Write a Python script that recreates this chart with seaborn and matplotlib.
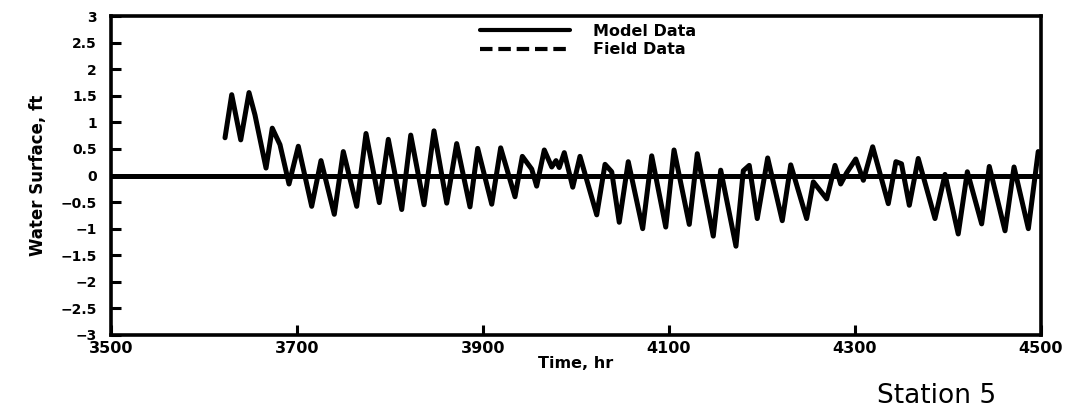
import matplotlib
matplotlib.use("Agg")
import matplotlib.pyplot as plt
import seaborn as sns
import pandas as pd
from matplotlib.lines import Line2D

# ---- data ----
time_hr = [3622.6, 3629.8, 3639.5, 3648.4, 3654.8, 3666.7, 3673.4, 3681.7, 3691.4, 3701.4,
           3715.8, 3725.8, 3740.1, 3749.8, 3764.2, 3774.2, 3788.5, 3798.2, 3812.6, 3822.3,
           3836.6, 3847.3, 3861.0, 3871.7, 3886.0, 3894.3, 3909.4, 3919.0, 3934.4, 3942.3,
           3952.4, 3957.7, 3965.9, 3973.9, 3978.5, 3982.0, 3987.4, 3996.5, 4004.3, 4022.3,
           4031.2, 4038.4, 4046.5, 4056.2, 4071.7, 4081.4, 4096.5, 4105.4, 4121.8, 4130.4,
           4147.6, 4155.6, 4172.0, 4179.9, 4186.3, 4194.9, 4206.1, 4221.8, 4230.9, 4248.0,
           4255.2, 4269.6, 4278.5, 4284.6, 4291.0, 4300.8, 4309.0, 4319.0, 4335.8, 4344.0,
           4350.0, 4358.4, 4368.0, 4386.0, 4396.8, 4411.0, 4420.8, 4436.2, 4444.4, 4461.3,
           4471.0, 4486.4, 4497.0]
model_ft = [0.71, 1.52, 0.67, 1.56, 1.14, 0.14, 0.89, 0.58, -0.16, 0.55,
            -0.58, 0.28, -0.73, 0.45, -0.58, 0.79, -0.51, 0.68, -0.64, 0.76,
            -0.55, 0.84, -0.52, 0.60, -0.59, 0.51, -0.54, 0.52, -0.40, 0.36,
            0.12, -0.20, 0.48, 0.16, 0.28, 0.15, 0.43, -0.22, 0.36, -0.74,
            0.21, 0.07, -0.88, 0.26, -1.00, 0.37, -0.97, 0.48, -0.92, 0.41,
            -1.14, 0.10, -1.33, 0.09, 0.19, -0.81, 0.33, -0.85, 0.20, -0.81,
            -0.12, -0.44, 0.19, -0.16, 0.05, 0.31, -0.09, 0.54, -0.53, 0.26,
            0.22, -0.56, 0.32, -0.81, 0.02, -1.10, 0.07, -0.91, 0.17, -1.04,
            0.16, -1.00, 0.45]
zero_level = 0.0
x_ticks = [3500, 3700, 3900, 4100, 4300, 4500]
x_tick_labels = ["3500", "3700", "3900", "4100", "4300", "4500"]
y_ticks = [-3, -2.5, -2, -1.5, -1, -0.5, 0, 0.5, 1, 1.5, 2, 2.5, 3]
y_tick_labels = ["\u22123", "\u22122.5", "\u22122", "\u22121.5", "\u22121", "\u22120.5",
                 "0", "0.5", "1", "1.5", "2", "2.5", "3"]
legend_labels = ["Model Data", "Field Data"]

df = pd.DataFrame({"Time, hr": time_hr, "Water Surface, ft": model_ft})

sns.set_style("ticks")
plt.rcParams["font.family"] = ["DejaVu Sans"]
plt.rcParams["text.color"] = "black"
plt.rcParams["axes.labelcolor"] = "black"
plt.rcParams["xtick.color"] = "black"
plt.rcParams["ytick.color"] = "black"

fig = plt.figure(figsize=(10.72, 4.17), dpi=100)
ax = fig.add_axes([111 / 1072, 1 - 335 / 417, 930 / 1072, 319 / 417])

ax.axhline(zero_level, color="black", lw=3.6, zorder=2)
sns.lineplot(data=df, x="Time, hr", y="Water Surface, ft", color="black", lw=3.6,
             ax=ax, legend=False, zorder=3)
for ln in ax.get_lines():
    ln.set_solid_joinstyle("round")
    ln.set_solid_capstyle("round")

ax.set_xlim(3500, 4500)
ax.set_ylim(-3, 3)
ax.set_xticks(x_ticks)
ax.set_xticklabels(x_tick_labels, fontsize=11.5, fontweight="heavy", color="black")
ax.set_yticks(y_ticks)
ax.set_yticklabels(y_tick_labels, fontsize=10, fontweight="heavy", color="black")
ax.tick_params(axis="both", direction="in", length=7, width=2.2, color="black",
               labelcolor="black")
ax.tick_params(axis="x", pad=4)
ax.tick_params(axis="y", pad=10)

for sp in ax.spines.values():
    sp.set_visible(True)
    sp.set_linewidth(2.6)
    sp.set_color("black")

ax.set_xlabel("Time, hr", fontsize=11.5, fontweight="heavy", labelpad=0, color="black")
ax.set_ylabel("Water Surface, ft", fontsize=12, fontweight="heavy", labelpad=10,
              color="black")

handles = [Line2D([], [], color="black", lw=3.0),
           Line2D([], [], color="black", lw=3.0, linestyle=(0, (3.0, 1.4)))]
leg = ax.legend(handles, legend_labels, loc="upper left", bbox_to_anchor=(0.39, 0.995),
                frameon=False, handlelength=5.6, handletextpad=1.5, labelspacing=0.2,
                borderaxespad=0.0, prop={"weight": "heavy", "size": 11.5})
for t in leg.get_texts():
    t.set_color("black")

fig.text(0.818, 0.05, "Station 5", fontsize=19, color="black", ha="left", va="center")

fig.savefig("out.png", dpi=100)
